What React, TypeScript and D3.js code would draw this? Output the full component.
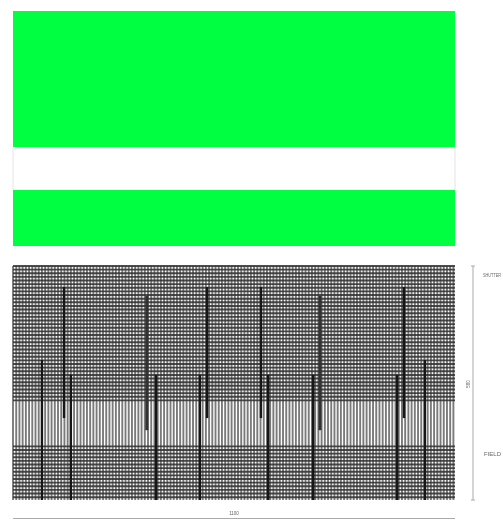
import React from "react";
import * as d3 from "d3";

const W = 503, H = 520;
const DRAWING_WIDTH = 1100;
const DRAWING_HEIGHT = 580;
const panelXTicks: number[] = d3.range(0, DRAWING_WIDTH + 1, 8);
const shutterRows: number[] = d3.range(0, 336, 9);
const fieldRows: number[] = d3.range(447, DRAWING_HEIGHT + 1, 9);
const greenBands = [[0, 136], [179, 235]];
const postX = [72, 127, 144, 333, 356, 465, 483, 617, 635, 747, 764, 956, 973, 1025];
const postTop = [233, 52, 270, 74, 270, 270, 52, 52, 270, 270, 74, 270, 52, 233];
const postBottom = [580, 377, 580, 407, 580, 580, 377, 377, 580, 580, 407, 580, 377, 580];
const postSoft = [false, false, false, true, false, false, false, false, false, false, true, false, false, false];

const x = d3.scaleLinear().domain([0, DRAWING_WIDTH]).range([13, 455]);
const y = d3.scaleLinear().domain([0, DRAWING_HEIGHT]).range([266, 500]);
const yGreen = d3.scaleLinear().domain([0, 235]).range([11, 246]);

export default function App() {
  return (
    <svg width={W} height={H} style={{ position: "absolute", left: 0, top: 0, background: "#fff" }}>
      <defs>
        <filter id="soft" x="-2%" y="-2%" width="104%" height="104%">
          <feGaussianBlur stdDeviation={0.45} />
        </filter>
      </defs>
      <rect width={W} height={H} fill="#fff" />
      <g filter="url(#soft)">
        {greenBands.map((b, i) => (
          <rect key={i} x={x(0)} width={x(DRAWING_WIDTH) - x(0)} y={yGreen(b[0])} height={yGreen(b[1]) - yGreen(b[0])} fill="#00ff40" />
        ))}
        <line x1={x(0)} x2={x(0)} y1={147} y2={190} stroke="#e4e4e4" />
        <line x1={x(DRAWING_WIDTH)} x2={x(DRAWING_WIDTH)} y1={147} y2={190} stroke="#e4e4e4" />
      </g>
      <g filter="url(#soft)">
        <rect x={x(0)} y={y(0)} width={x(DRAWING_WIDTH) - x(0)} height={y(DRAWING_HEIGHT) - y(0)} fill="#ffffff" />
        {panelXTicks.map((v, i) => (
          <line key={i} x1={x(v)} x2={x(v)} y1={y(0)} y2={y(DRAWING_HEIGHT)} stroke="#7a7a7a" strokeWidth={1.9} />
        ))}
        {shutterRows.concat(fieldRows).map((v, i) => (
          <line key={i} x1={x(0)} x2={x(DRAWING_WIDTH)} y1={y(v)} y2={y(v)} stroke="#303030" strokeWidth={1.9} opacity={0.85} />
        ))}
        {postX.map((v, i) => (
          <line key={i} x1={x(v)} x2={x(v)} y1={y(postTop[i])} y2={y(postBottom[i])}
            stroke={postSoft[i] ? "#333" : "#161616"} strokeWidth={postSoft[i] ? 3 : 2.4} />
        ))}
      </g>
      <g filter="url(#soft)">
        <g stroke="#aaa" fill="none">
          <line x1={473} x2={473} y1={266} y2={500} />
          <line x1={471} x2={475} y1={266} y2={266} />
          <line x1={471} x2={475} y1={500} y2={500} />
          <line x1={13} x2={455} y1={518.5} y2={518.5} />
        </g>
        <g fontFamily="Liberation Sans, sans-serif" fontSize={4.5} fill="#666">
          <text x={483} y={277} textLength={18} lengthAdjust="spacingAndGlyphs">SHUTTER</text>
          <text x={484} y={456} textLength={17} lengthAdjust="spacingAndGlyphs">FIELD</text>
          <text x={234} y={515} textAnchor="middle">1100</text>
          <text x={470} y={384} textAnchor="middle" transform="rotate(-90 470 384)">580</text>
        </g>
      </g>
    </svg>
  );
}
